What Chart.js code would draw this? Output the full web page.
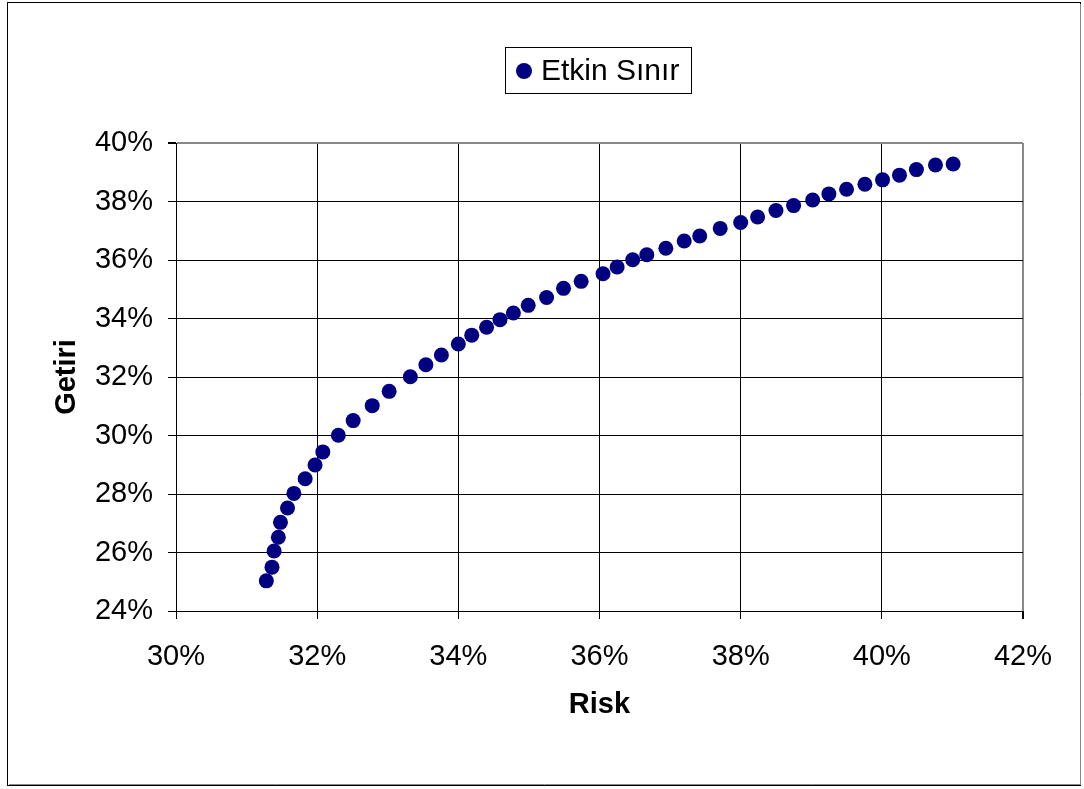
<!DOCTYPE html>
<html lang="tr">
<head>
  <meta charset="UTF-8">
  <title>Etkin Sınır</title>
  <script src="https://cdn.jsdelivr.net/npm/chart.js@4.4.0/dist/chart.umd.min.js"></script>
  <style>
    html, body { margin: 0; padding: 0; background: #fff; }
    canvas { display: block; }
  </style>
</head>
<body>
  <canvas id="chart" width="1084" height="789"></canvas>
  <script>
    // Risk (x) ve getiri (y), yüzde olarak
    const seriesLabel = 'Etkin Sınır';
    const riskValues = [31.28, 31.36, 31.39, 31.45, 31.48, 31.58, 31.67, 31.83, 31.97, 32.08,
      32.30, 32.51, 32.78, 33.02, 33.32, 33.54, 33.76, 34.00, 34.19, 34.40,
      34.59, 34.78, 34.99, 35.25, 35.49, 35.74, 36.05, 36.25, 36.47, 36.67,
      36.94, 37.20, 37.42, 37.71, 38.00, 38.24, 38.50, 38.75, 39.02, 39.25,
      39.50, 39.76, 40.01, 40.25, 40.49, 40.76, 41.01];
    const returnValues = [25.03, 25.50, 26.05, 26.52, 27.03, 27.52, 28.02, 28.52, 28.99, 29.44,
      30.01, 30.51, 31.02, 31.51, 32.01, 32.42, 32.75, 33.13, 33.43, 33.70,
      33.96, 34.19, 34.45, 34.72, 35.03, 35.27, 35.53, 35.76, 36.01, 36.18,
      36.40, 36.65, 36.82, 37.08, 37.28, 37.47, 37.69, 37.86, 38.05, 38.26,
      38.42, 38.59, 38.74, 38.90, 39.09, 39.25, 39.28];
    const xTicks = [30, 32, 34, 36, 38, 40, 42];
    const yTicks = [24, 26, 28, 30, 32, 34, 36, 38, 40];

    const FONT = '"Liberation Sans", Arial, sans-serif';
    const NAVY = '#000080';

    // dış çerçeve ve kutulu gösterge
    const framePlugin = {
      id: 'frame',
      afterDraw(chart) {
        const c = chart.ctx;
        c.save();
        c.strokeStyle = '#000';
        c.lineWidth = 1;
        c.strokeRect(7.5, 2.5, 1073, 783);
        c.strokeStyle = '#888';
        c.beginPath();
        c.moveTo(1080.5, 4); c.lineTo(1080.5, 785);
        c.moveTo(9, 784.5); c.lineTo(1080, 784.5);
        c.stroke();

        // legend
        c.strokeStyle = '#000';
        c.strokeRect(505.5, 47.5, 186, 46);
        c.fillStyle = NAVY;
        c.beginPath();
        c.arc(524, 71, 8, 0, Math.PI * 2);
        c.fill();
        c.fillStyle = '#000';
        c.font = '30px ' + FONT;
        c.textBaseline = 'middle';
        c.textAlign = 'left';
        c.fillText(seriesLabel, 541, 72);
        c.restore();
      }
    };

    new Chart(document.getElementById('chart'), {
      type: 'scatter',
      data: {
        datasets: [{
          label: seriesLabel,
          data: riskValues.map((x, i) => ({ x: x, y: returnValues[i] })),
          backgroundColor: NAVY,
          borderColor: NAVY,
          borderWidth: 0,
          pointRadius: 7.5,
          pointHoverRadius: 7.5
        }]
      },
      options: {
        responsive: false,
        devicePixelRatio: 1,
        animation: false,
        layout: { padding: { left: 0, top: 143, right: 61, bottom: 58 } },
        plugins: {
          legend: { display: false },
          tooltip: { enabled: false }
        },
        scales: {
          x: {
            type: 'linear',
            min: 30, max: 42,
            afterBuildTicks: s => { s.ticks = xTicks.map(v => ({ value: v })); },
            afterFit: s => { s.height = 120; },
            ticks: {
              callback: v => v + '%',
              color: '#000',
              font: { family: FONT, size: 29 },
              padding: 21,
              maxRotation: 0
            },
            grid: {
              color: ctx => ctx.tick && ctx.tick.value === 42 ? '#888' : '#000',
              lineWidth: ctx => ctx.tick && ctx.tick.value === 42 ? 2 : 1,
              tickColor: '#000',
              tickLength: 8
            },
            border: { color: '#000', width: 1 },
            title: {
              display: true,
              text: 'Risk',
              color: '#000',
              font: { family: FONT, size: 29, weight: 'bold' },
              padding: { top: 0, bottom: 9 }
            }
          },
          y: {
            type: 'linear',
            min: 24, max: 40,
            afterBuildTicks: s => { s.ticks = yTicks.map(v => ({ value: v })); },
            afterFit: s => { s.width = 176; },
            ticks: {
              callback: v => v + '%',
              color: '#000',
              font: { family: FONT, size: 29 },
              padding: 15
            },
            grid: {
              color: ctx => ctx.tick && ctx.tick.value === 40 ? '#888' : '#000',
              lineWidth: ctx => ctx.tick && ctx.tick.value === 40 ? 2 : 1,
              tickColor: '#000',
              tickLength: 8
            },
            border: { color: '#000', width: 1 },
            title: {
              display: true,
              text: 'Getiri',
              color: '#000',
              font: { family: FONT, size: 29, weight: 'bold' },
              padding: { top: 50, bottom: 0 }
            }
          }
        }
      },
      plugins: [framePlugin]
    });
  </script>
</body>
</html>
